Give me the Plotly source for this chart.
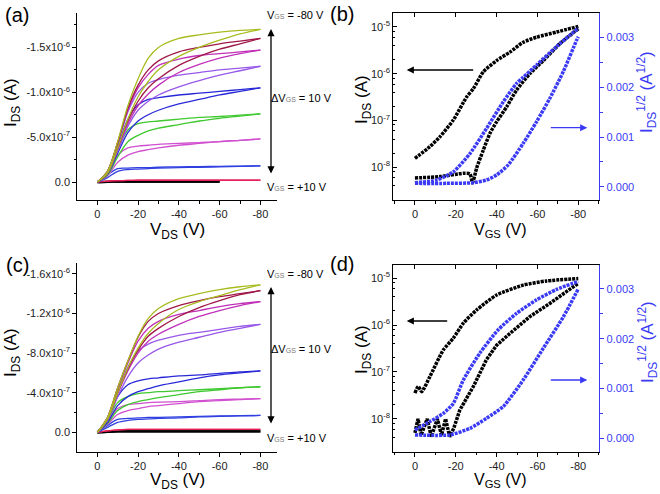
import plotly.graph_objects as go

W, H = 660, 494

# ---------------- data: output curves (a) and (c) ----------------
vds = [0, -5, -10, -15, -20, -25, -30, -40, -50, -60, -70, -80]
vgs_labels = ["+10", "0", "-10", "-20", "-30", "-40", "-50", "-60", "-70", "-80"]
curve_colors = ["#000000", "#E8205A", "#3040E0", "#D050D0", "#40C830",
                "#2828D8", "#9858E8", "#C030B8", "#A01848", "#A8BC20"]

# currents in µA magnitude (forward / reverse sweep) for panel (a)
a_fwd = [
    [0, 0.003, 0.004, 0.005, 0.005, 0.005, 0.005, 0.005, 0.005, 0.005],
    [0, 0.01, 0.015, 0.018, 0.02, 0.02, 0.02, 0.02, 0.02, 0.02, 0.02, 0.02],
    [0, 0.08, 0.15, 0.155, 0.16, 0.16, 0.165, 0.17, 0.172, 0.175, 0.178, 0.18],
    [0, 0.09, 0.30, 0.38, 0.40, 0.41, 0.42, 0.43, 0.44, 0.45, 0.465, 0.48],
    [0, 0.10, 0.36, 0.58, 0.65, 0.67, 0.68, 0.70, 0.72, 0.73, 0.745, 0.76],
    [0, 0.11, 0.40, 0.70, 0.86, 0.92, 0.94, 0.97, 0.99, 1.01, 1.03, 1.05],
    [0, 0.12, 0.42, 0.78, 1.00, 1.10, 1.14, 1.19, 1.22, 1.25, 1.27, 1.29],
    [0, 0.12, 0.44, 0.80, 1.05, 1.20, 1.30, 1.37, 1.41, 1.43, 1.45, 1.47],
    [0, 0.12, 0.44, 0.82, 1.08, 1.25, 1.35, 1.45, 1.50, 1.54, 1.57, 1.60],
    [0, 0.12, 0.45, 0.85, 1.15, 1.38, 1.50, 1.60, 1.64, 1.67, 1.69, 1.70],
]
a_rev = [
    [0, 0.003, 0.004, 0.005, 0.005, 0.005, 0.005, 0.005, 0.005, 0.005],
    [0, 0.01, 0.015, 0.018, 0.02, 0.02, 0.02, 0.02, 0.02, 0.02, 0.02, 0.02],
    [0, 0.05, 0.12, 0.14, 0.145, 0.15, 0.155, 0.16, 0.165, 0.17, 0.175, 0.18],
    [0, 0.07, 0.22, 0.30, 0.34, 0.36, 0.38, 0.41, 0.43, 0.45, 0.465, 0.48],
    [0, 0.08, 0.28, 0.45, 0.52, 0.57, 0.60, 0.64, 0.68, 0.71, 0.735, 0.76],
    [0, 0.09, 0.32, 0.55, 0.68, 0.75, 0.80, 0.87, 0.92, 0.97, 1.01, 1.05],
    [0, 0.10, 0.35, 0.62, 0.80, 0.90, 0.97, 1.06, 1.13, 1.19, 1.24, 1.29],
    [0, 0.10, 0.37, 0.65, 0.85, 0.98, 1.08, 1.22, 1.31, 1.38, 1.43, 1.47],
    [0, 0.10, 0.38, 0.68, 0.90, 1.05, 1.15, 1.30, 1.40, 1.48, 1.54, 1.60],
    [0, 0.10, 0.38, 0.70, 0.95, 1.12, 1.25, 1.40, 1.50, 1.58, 1.65, 1.70],
]
# panel (c)
c_fwd = [
    [0, 0.005, 0.008, 0.01, 0.01, 0.01, 0.01, 0.01, 0.01, 0.01, 0.01, 0.01],
    [0, 0.015, 0.025, 0.03, 0.03, 0.03, 0.03, 0.03, 0.03, 0.03, 0.03, 0.03],
    [0, 0.07, 0.13, 0.14, 0.145, 0.15, 0.15, 0.155, 0.16, 0.165, 0.168, 0.17],
    [0, 0.10, 0.24, 0.28, 0.29, 0.30, 0.305, 0.31, 0.32, 0.33, 0.335, 0.34],
    [0, 0.12, 0.30, 0.36, 0.39, 0.40, 0.41, 0.42, 0.43, 0.44, 0.45, 0.46],
    [0, 0.13, 0.36, 0.48, 0.52, 0.54, 0.55, 0.57, 0.58, 0.595, 0.61, 0.62],
    [0, 0.14, 0.42, 0.66, 0.82, 0.89, 0.93, 0.98, 1.01, 1.04, 1.07, 1.09],
    [0, 0.15, 0.44, 0.70, 0.92, 1.05, 1.12, 1.19, 1.23, 1.27, 1.30, 1.32],
    [0, 0.15, 0.45, 0.72, 0.96, 1.12, 1.20, 1.28, 1.33, 1.37, 1.40, 1.43],
    [0, 0.15, 0.45, 0.72, 0.97, 1.15, 1.25, 1.35, 1.40, 1.44, 1.47, 1.49],
]
c_rev = [
    [0, 0.005, 0.008, 0.01, 0.01, 0.01, 0.01, 0.01, 0.01, 0.01, 0.01, 0.01],
    [0, 0.015, 0.025, 0.03, 0.03, 0.03, 0.03, 0.03, 0.03, 0.03, 0.03, 0.03],
    [0, 0.05, 0.10, 0.12, 0.13, 0.135, 0.14, 0.145, 0.155, 0.16, 0.165, 0.17],
    [0, 0.08, 0.18, 0.22, 0.24, 0.26, 0.27, 0.29, 0.31, 0.32, 0.33, 0.34],
    [0, 0.09, 0.22, 0.28, 0.31, 0.33, 0.35, 0.38, 0.41, 0.43, 0.45, 0.46],
    [0, 0.10, 0.27, 0.36, 0.41, 0.44, 0.47, 0.51, 0.55, 0.58, 0.60, 0.62],
    [0, 0.12, 0.36, 0.56, 0.70, 0.78, 0.84, 0.91, 0.96, 1.01, 1.05, 1.09],
    [0, 0.13, 0.39, 0.62, 0.80, 0.92, 0.99, 1.09, 1.17, 1.23, 1.28, 1.32],
    [0, 0.13, 0.40, 0.64, 0.83, 0.97, 1.05, 1.17, 1.26, 1.33, 1.39, 1.43],
    [0, 0.13, 0.40, 0.65, 0.85, 1.00, 1.10, 1.24, 1.32, 1.38, 1.44, 1.49],
]

# ---------------- data: transfer curves (b) and (d) ----------------
b_blk_up_x = [0, -7.3, -12.2, -18.8, -25.3, -28.6, -33.5, -40, -46.5, -53, -59.6, -69.4, -80]
b_blk_up_log = [-7.81, -7.56, -7.35, -6.99, -6.50, -6.32, -5.96, -5.72, -5.54, -5.33, -5.22, -5.11, -4.99]
b_blk_dn_x = [0, -12.2, -23.7, -26.9, -28.2, -30.2, -33.5, -36.7, -40, -44.9, -49.8, -56.3, -62.9, -71, -80]
b_blk_dn_log = [-8.23, -8.20, -8.13, -8.14, -8.33, -8.02, -7.63, -7.28, -7.03, -6.71, -6.35, -6.00, -5.72, -5.36, -5.04]
b_blu_up_x = [0, -10.6, -18.8, -27, -35, -43.3, -49.8, -53, -59.6, -69.4, -80]
b_blu_up = [0.00008, 0.000134, 0.0003, 0.00067, 0.00117, 0.00171, 0.00208, 0.0022, 0.00245, 0.00282, 0.00319]
b_blu_dn_x = [0, -15.5, -28.6, -35, -40, -45.7, -53, -59.6, -66.1, -72.7, -79.2, -80]
b_blu_dn = [0.000067, 0.000067, 0.00008, 0.000134, 0.000235, 0.00044, 0.00087, 0.00131, 0.00178, 0.00232, 0.00295, 0.00302]

d_blk_up_x = [0, -1.6, -3.3, -7.3, -13.9, -18.8, -23.7, -30.2, -40, -53, -64.5, -80]
d_blk_up_log = [-7.45, -7.31, -7.42, -7.10, -6.53, -6.28, -5.96, -5.68, -5.36, -5.15, -5.06, -5.01]
d_blk_dn_x = [0, -1.5, -3, -6, -8, -11, -13, -15, -17, -19, -22, -28.6, -35, -40, -46.5, -56.3, -66, -80]
d_blk_dn_log = [-8.30, -8.00, -8.35, -8.00, -8.38, -8.00, -8.35, -8.00, -8.38, -8.20, -7.81, -7.31, -6.74, -6.43, -6.18, -5.82, -5.54, -5.11]
d_blu_up_x = [0, -7.3, -13.9, -18.8, -23.7, -31.8, -40.8, -49.8, -59.6, -69.4, -80]
d_blu_up = [0.000167, 0.000335, 0.0005, 0.0007, 0.00117, 0.00171, 0.00218, 0.00251, 0.00278, 0.00299, 0.00315]
d_blu_dn_x = [0, -17, -27, -35, -43.3, -53, -62.9, -72.7, -80]
d_blu_dn = [0.000067, 0.000067, 0.0002, 0.0004, 0.00064, 0.00117, 0.00181, 0.00244, 0.003]

# tick labels
x_tickvals = [0, -20, -40, -60, -80]
x_ticktext = ["0", "-20", "-40", "-60", "-80"]
a_tickvals = [0, -0.5e-6, -1.0e-6, -1.5e-6]
a_ticktext = ["0.0", "-5.0x10<sup>-7</sup>", "-1.0x10<sup>-6</sup>", "-1.5x10<sup>-6</sup>"]
c_tickvals = [0, -0.4e-6, -0.8e-6, -1.2e-6, -1.6e-6]
c_ticktext = ["0.0", "-4.0x10<sup>-7</sup>", "-8.0x10<sup>-7</sup>", "-1.2x10<sup>-6</sup>", "-1.6x10<sup>-6</sup>"]
log_tickvals = [1e-8, 1e-7, 1e-6, 1e-5]
log_ticktext = ["10<sup>-8</sup>", "10<sup>-7</sup>", "10<sup>-6</sup>", "10<sup>-5</sup>"]
log_minor = [m * 10.0 ** e for e in range(-9, -4) for m in (2, 4, 6, 8)]
r_tickvals = [0, 0.001, 0.002, 0.003]
r_ticktext = ["0.000", "0.001", "0.002", "0.003"]

BLUE = "#3A3AF5"
FONT = "Liberation Sans, Arial, sans-serif"

fig = go.Figure()

def px2x(p):
    return p / W

def px2y(p):
    return 1 - p / H

# output curves
def add_output(fwd, rev, xa, ya):
    for i in range(len(fwd)):
        for arr in (fwd[i], rev[i]):
            xs = vds[:len(arr)]
            ys = [-v * 1e-6 for v in arr]
            fig.add_trace(go.Scatter(
                x=xs, y=ys, mode="lines", xaxis=xa, yaxis=ya,
                line=dict(color=curve_colors[i], width=2.2 if i == 0 else 1.3,
                          shape="spline", smoothing=0.9),
                showlegend=False, hoverinfo="skip"))

add_output(a_fwd, a_rev, "x", "y")
add_output(c_fwd, c_rev, "x3", "y3")

DOT = "3px,1px"

def add_transfer(xa, ylog, yr, bu_x, bu, bd_x, bd, lu_x, lu, ld_x, ld, noisy=False):
    fig.add_trace(go.Scatter(x=bu_x, y=[10 ** v for v in bu], mode="lines", xaxis=xa, yaxis=ylog,
                             line=dict(color="black", width=3.5, dash=DOT, shape="spline", smoothing=0.6),
                             showlegend=False, hoverinfo="skip"))
    fig.add_trace(go.Scatter(x=bd_x, y=[10 ** v for v in bd], mode="lines", xaxis=xa, yaxis=ylog,
                             line=dict(color="black", width=3.5, dash=DOT,
                                       shape="linear" if noisy else "spline", smoothing=0.6),
                             showlegend=False, hoverinfo="skip"))
    fig.add_trace(go.Scatter(x=lu_x, y=lu, mode="lines", xaxis=xa, yaxis=yr,
                             line=dict(color=BLUE, width=3.5, dash=DOT, shape="spline", smoothing=0.6),
                             showlegend=False, hoverinfo="skip"))
    fig.add_trace(go.Scatter(x=ld_x, y=ld, mode="lines", xaxis=xa, yaxis=yr,
                             line=dict(color=BLUE, width=3.5, dash=DOT, shape="spline", smoothing=0.6),
                             showlegend=False, hoverinfo="skip"))

add_transfer("x2", "y2", "y5", b_blk_up_x, b_blk_up_log, b_blk_dn_x, b_blk_dn_log,
             b_blu_up_x, b_blu_up, b_blu_dn_x, b_blu_dn)
add_transfer("x4", "y4", "y6", d_blk_up_x, d_blk_up_log, d_blk_dn_x, d_blk_dn_log,
             d_blu_up_x, d_blu_up, d_blu_dn_x, d_blu_dn, noisy=True)

# dummy traces for top mirror axes of (b) and (d)
fig.add_trace(go.Scatter(x=[None], y=[None], xaxis="x5", yaxis="y2", showlegend=False, hoverinfo="skip"))
fig.add_trace(go.Scatter(x=[None], y=[None], xaxis="x6", yaxis="y4", showlegend=False, hoverinfo="skip"))

tickfont = dict(family=FONT, size=11, color="#222222")

def xaxis(dom, anchor, rng):
    return dict(domain=dom, anchor=anchor, range=rng, tickvals=x_tickvals, ticktext=x_ticktext,
                showline=True, linecolor="black", linewidth=1.2, ticks="outside", ticklen=4,
                tickcolor="black", tickfont=tickfont, showgrid=False, zeroline=False,
                minor=dict(tickvals=[-10, -30, -50, -70, 10, -90], ticks="outside", ticklen=2.5,
                           tickcolor="black", showgrid=False))

xa_dom = [px2x(77.3), px2x(276.7)]
xb_dom = [px2x(393.3), px2x(599.3)]
ya_dom = [px2y(200), px2y(13.3)]
yb_dom = [px2y(200), px2y(13.3)]
yc_dom = [px2y(451.7), px2y(263.3)]
yd_dom = [px2y(451.7), px2y(265)]

xr_out = [9.8, -88.0]
xr_tr = [10.6, -90.3]

def logaxis(dom, anchor, rng):
    return dict(domain=dom, anchor=anchor, type="log", range=rng,
                tickvals=log_tickvals, ticktext=log_ticktext, showline=True, linecolor="black",
                linewidth=1.2, ticks="inside", ticklen=4, tickcolor="black", tickfont=tickfont,
                showgrid=False, zeroline=False,
                minor=dict(tickvals=log_minor, ticks="inside", ticklen=2, tickcolor="black",
                           showgrid=False))

def rightaxis(over, anchor, rng):
    return dict(overlaying=over, side="right", anchor=anchor, range=rng,
                tickvals=r_tickvals, ticktext=r_ticktext, showline=True, linecolor=BLUE,
                linewidth=1.2, ticks="outside", ticklen=4, tickcolor=BLUE,
                tickfont=dict(family=FONT, size=11, color=BLUE), showgrid=False, zeroline=False,
                minor=dict(tickvals=[0.0005, 0.0015, 0.0025], ticks="outside", ticklen=2.5,
                           tickcolor=BLUE, showgrid=False))

def topaxis(over, anchor):
    return dict(overlaying=over, side="top", anchor=anchor, range=xr_tr, tickvals=x_tickvals,
                showticklabels=False, showline=True, linecolor="black", linewidth=1.2,
                ticks="inside", ticklen=4, tickcolor="black", showgrid=False, zeroline=False)

layout = dict(
    width=W, height=H, margin=dict(l=0, r=0, t=0, b=0),
    paper_bgcolor="white", plot_bgcolor="white",
    font=dict(family=FONT),
    xaxis=xaxis(xa_dom, "y", xr_out),
    xaxis3=xaxis(xa_dom, "y3", xr_out),
    xaxis2=xaxis(xb_dom, "y2", xr_tr),
    xaxis4=xaxis(xb_dom, "y4", xr_tr),
    xaxis5=topaxis("x2", "y2"),
    xaxis6=topaxis("x4", "y4"),
    yaxis=dict(domain=ya_dom, anchor="x", range=[0.2e-6, -1.88e-6], tickvals=a_tickvals,
               ticktext=a_ticktext, showline=True, linecolor="black", linewidth=1.2,
               ticks="outside", ticklen=4, tickcolor="black", tickfont=tickfont,
               showgrid=False, zeroline=False,
               minor=dict(tickvals=[-0.25e-6, -0.75e-6, -1.25e-6, -1.75e-6], ticks="outside",
                          ticklen=2.5, tickcolor="black", showgrid=False)),
    yaxis3=dict(domain=yc_dom, anchor="x3", range=[0.196e-6, -1.707e-6], tickvals=c_tickvals,
                ticktext=c_ticktext, showline=True, linecolor="black", linewidth=1.2,
                ticks="outside", ticklen=4, tickcolor="black", tickfont=tickfont,
                showgrid=False, zeroline=False,
                minor=dict(tickvals=[-0.2e-6, -0.6e-6, -1.0e-6, -1.4e-6], ticks="outside",
                           ticklen=2.5, tickcolor="black", showgrid=False)),
    yaxis2=logaxis(yb_dom, "x2", [-8.70, -4.71]),
    yaxis4=logaxis(yd_dom, "x4", [-8.70, -4.72]),
    yaxis5=rightaxis("y2", "x2", [-0.000268, 0.00349]),
    yaxis6=rightaxis("y4", "x4", [-0.00027, 0.00348]),
)
fig.update_layout(**layout)

ann = []

def text(xp, yp, s, size=11, color="black", angle=0, xanchor="center"):
    ann.append(dict(x=px2x(xp), y=px2y(yp), xref="paper", yref="paper", text=s, showarrow=False,
                    font=dict(family=FONT, size=size, color=color), textangle=angle,
                    xanchor=xanchor, yanchor="middle"))

def arrow(xtip, ytip, dx, dy, color="black", both=False, width=1.3):
    ann.append(dict(x=px2x(xtip), y=px2y(ytip), xref="paper", yref="paper", text="",
                    showarrow=True, ax=dx, ay=dy, arrowcolor=color, arrowwidth=width,
                    arrowhead=2, arrowsize=1.1, arrowside="end+start" if both else "end"))

# panel labels
text(17, 15, "(a)", size=20)
text(342, 14, "(b)", size=20)
text(17, 265, "(c)", size=20)
text(342, 264, "(d)", size=20)

# axis titles
for yoff in (0, 250):
    text(12, 103 + yoff, "I<sub>DS</sub> (A)", size=17, angle=-90)
    text(177, 231 + yoff, "V<sub>DS</sub> (V)", size=17)
    text(363, 100 + yoff, "I<sub>DS</sub> (A)", size=17, angle=-90)
    text(647, 92 + yoff, "I<sub>DS</sub><sup>1/2</sup> (A<sup>1/2</sup>)", size=17, angle=-90, color=BLUE)
    text(500, 230 + yoff, "V<sub>GS</sub> (V)", size=16)

sub = "<span style='font-size:7px;color:#777'>GS</span>"
# (a) annotations
text(265, 15, "V" + sub + " = -80 V", size=11, xanchor="left")
text(269, 98, "\u0394V" + sub + " = 10 V", size=11, xanchor="left")
text(265, 187, "V" + sub + " = +10 V", size=11, xanchor="left")
arrow(271, 29, 0, 146, both=True)
# (c) annotations
text(265, 274, "V" + sub + " = -80 V", size=11, xanchor="left")
text(269, 349, "\u0394V" + sub + " = 10 V", size=11, xanchor="left")
text(265, 438, "V" + sub + " = +10 V", size=11, xanchor="left")
arrow(271, 287, 0, 138, both=True)

# (b) / (d) arrows
arrow(406.7, 70, 68, 0)
arrow(587.3, 127.7, -38, 0, color=BLUE)
arrow(406.7, 321, 42, 0)
arrow(587.3, 380, -38, 0, color=BLUE)

fig.update_layout(annotations=ann)
fig.write_html("out.html", config={"displayModeBar": False},
               post_script="document.body.style.margin='0';document.body.style.overflow='hidden';")
